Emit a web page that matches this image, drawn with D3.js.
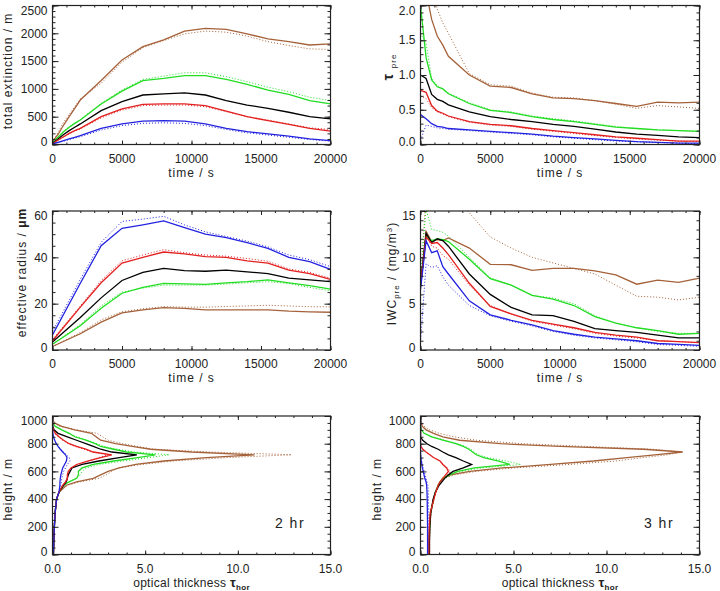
<!DOCTYPE html>
<html>
<head>
<meta charset="utf-8">
<script src="https://cdn.jsdelivr.net/npm/d3@7"></script>
<style>
body { margin: 0; background: #fff; }
svg { font-family: "Liberation Sans", Arial, sans-serif; }
</style>
</head>
<body>
<div id="chart"></div>
<script>
// time axis (s) used by extinction, tau and IWC
var times = [0, 400, 800, 1200, 1600, 2000, 3500, 5000, 6500, 8000, 9500, 11000, 12500, 14000, 15500, 17000, 18500, 20000];
// coarser output times for effective radius
var timesR = [0, 2000, 3500, 5000, 6500, 8000, 9500, 11000, 12500, 14000, 15500, 17000, 18500, 20000];
// heights (m) for the optical thickness profiles
var heights = [0, 100, 200, 300, 400, 450, 500, 525, 550, 575, 600, 625, 650, 675, 700, 720, 740, 760, 780, 800, 825, 850, 875, 900, 925, 950, 975, 1000];

// total extinction / m
var extBrown    = [50, 180, 350, 500, 650, 800, 1150, 1520, 1760, 1880, 2040, 2090, 2070, 1990, 1900, 1850, 1790, 1810];
var extBrownDot = [50, 220, 400, 540, 680, 820, 1100, 1480, 1740, 1870, 1990, 2040, 2020, 1950, 1850, 1780, 1720, 1710];
var extGreen    = [30, 130, 230, 310, 380, 440, 730, 960, 1150, 1190, 1240, 1240, 1170, 1080, 980, 900, 790, 730];
var extGreenDot = [30, 140, 240, 320, 390, 450, 740, 980, 1170, 1230, 1290, 1290, 1220, 1130, 1030, 950, 850, 790];
var extBlack    = [20, 100, 180, 250, 310, 370, 610, 770, 890, 910, 930, 890, 790, 710, 650, 580, 500, 460];
var extRed      = [15, 80, 140, 200, 250, 290, 500, 640, 720, 730, 730, 700, 600, 500, 430, 360, 290, 240];
var extRedDot   = [15, 75, 135, 190, 240, 280, 480, 620, 700, 710, 710, 680, 590, 500, 440, 370, 300, 270];
var extBlue     = [10, 40, 70, 100, 130, 160, 290, 370, 420, 430, 420, 370, 290, 230, 190, 150, 100, 70];
var extBlueDot  = [10, 35, 60, 90, 115, 140, 260, 340, 380, 390, 380, 340, 270, 210, 170, 130, 90, 60];

// tau_pre
var tauBrown    = [3.2, 2.2, 1.8, 1.56, 1.43, 1.27, 1.0, 0.84, 0.82, 0.73, 0.67, 0.66, 0.63, 0.59, 0.55, 0.61, 0.60, 0.61];
var tauBrownDot = [4.0, 3.2, 2.3, 1.95, 1.75, 1.6, 1.02, 0.86, 0.84, 0.74, 0.68, 0.67, 0.63, 0.58, 0.52, 0.56, 0.54, 0.52];
var tauGreen    = [2.0, 1.25, 0.93, 0.83, 0.80, 0.73, 0.59, 0.49, 0.46, 0.40, 0.36, 0.33, 0.29, 0.25, 0.23, 0.21, 0.20, 0.19];
var tauGreenDot = [1.6, 1.45, 0.95, 0.85, 0.80, 0.74, 0.60, 0.50, 0.47, 0.41, 0.37, 0.34, 0.30, 0.26, 0.23, 0.21, 0.20, 0.19];
var tauBlack    = [1.0, 0.95, 0.72, 0.65, 0.62, 0.57, 0.47, 0.40, 0.36, 0.33, 0.29, 0.26, 0.22, 0.18, 0.15, 0.13, 0.11, 0.10];
var tauRed      = [0.78, 0.75, 0.56, 0.48, 0.45, 0.41, 0.33, 0.29, 0.27, 0.23, 0.20, 0.17, 0.14, 0.11, 0.09, 0.07, 0.05, 0.05];
var tauRedDot   = [0.70, 0.66, 0.53, 0.47, 0.44, 0.40, 0.32, 0.28, 0.26, 0.22, 0.19, 0.16, 0.13, 0.10, 0.08, 0.06, 0.05, 0.04];
var tauBlue     = [0.43, 0.37, 0.30, 0.26, 0.25, 0.23, 0.21, 0.19, 0.17, 0.15, 0.12, 0.10, 0.08, 0.06, 0.04, 0.03, 0.02, 0.02];
var tauBlueDot  = [0.06, 0.28, 0.26, 0.24, 0.23, 0.22, 0.20, 0.18, 0.16, 0.14, 0.11, 0.09, 0.07, 0.05, 0.04, 0.03, 0.02, 0.01];

// effective radius / um
var radBlue     = [6.5, 28.8, 45, 52.5, 54, 55.7, 52.8, 50, 48.5, 46.3, 43.9, 40, 38.1, 34.8];
var radBlueDot  = [8, 30.5, 46.5, 55.5, 56.5, 57.7, 54, 51, 49, 47, 44.5, 41, 39, 36];
var radRed      = [4, 18.5, 29, 37.5, 40, 42.3, 41.5, 40.3, 40, 38.5, 37.5, 34.5, 33, 30.5];
var radRedDot   = [4.5, 19, 30, 38.5, 41, 43.3, 42, 41, 40.5, 39.5, 38.3, 35, 33.5, 31];
var radBlack    = [3.5, 14, 22.5, 30, 33.5, 35.2, 34.3, 34, 34.5, 33.7, 33, 31, 30.3, 29.5];
var radGreen    = [2.5, 10.5, 18, 24.5, 27, 28.8, 28.5, 28.3, 29, 29.5, 30.3, 29, 27.8, 26.3];
var radGreenDot = [2.5, 11, 19, 25, 26.7, 28, 28, 28, 28.5, 29, 29.5, 28.7, 27, 25.5];
var radBrown    = [1.5, 7, 12, 16, 17.3, 18.3, 18, 17.3, 17.3, 17.3, 17.3, 16.8, 16.5, 16.3];
var radBrownDot = [1.5, 7.5, 13, 16.5, 17.8, 18.7, 18.5, 18.5, 18.8, 19, 19.3, 19, 18.7, 18.6];

// IWC_pre / (mg/m3)
var iwcBrown    = [7.0, 12.8, 11.7, 11.9, 11.8, 12.1, 11.0, 9.25, 9.2, 8.6, 8.8, 8.8, 8.55, 8.1, 7.1, 7.55, 7.3, 7.75];
var iwcBrownDot = [7.0, 17, 20, 19, 18, 17.5, 14.8, 12.2, 11.0, 10.0, 9.4, 8.8, 8.2, 7.0, 5.8, 5.7, 5.4, 5.7];
var iwcGreen    = [7.0, 12.3, 11.8, 12.0, 11.9, 11.7, 9.8, 7.7, 7.0, 5.9, 5.5, 4.8, 3.6, 2.9, 2.4, 2.1, 1.7, 1.8];
var iwcGreenDot = [8.0, 15.2, 13.0, 12.9, 12.7, 12.3, 10.0, 7.8, 7.0, 5.9, 5.6, 5.0, 3.7, 2.9, 2.4, 2.0, 1.8, 1.8];
var iwcBlack    = [7.0, 12.6, 11.6, 12.0, 11.8, 11.2, 8.2, 6.0, 4.6, 3.8, 3.7, 3.1, 2.3, 2.1, 1.9, 1.6, 1.3, 1.3];
var iwcRed      = [7.0, 12.2, 11.5, 11.6, 11.0, 10.3, 7.2, 4.7, 3.9, 3.2, 2.8, 2.4, 1.9, 1.6, 1.4, 1.0, 0.9, 0.8];
var iwcRedDot   = [7.0, 12.5, 11.2, 11.0, 10.2, 9.8, 7.0, 4.8, 3.9, 3.1, 2.7, 2.3, 1.8, 1.5, 1.3, 1.0, 0.9, 0.8];
var iwcBlue     = [6.5, 11.8, 10.5, 10.7, 9.0, 8.2, 5.3, 3.8, 3.2, 2.7, 2.1, 1.7, 1.4, 1.2, 1.0, 0.7, 0.6, 0.5];
var iwcBlueDot  = [0.8, 9.3, 8.9, 9.1, 7.9, 7.0, 4.8, 3.7, 3.1, 2.6, 2.0, 1.6, 1.3, 1.1, 0.9, 0.6, 0.5, 0.4];

// optical thickness profiles, 2 hr
var p2Brown    = [0.05, 0.07, 0.1, 0.14, 0.22, 0.35, 0.75, 1.3, 2.2, 2.6, 3.0, 3.6, 4.5, 6.0, 8.3, 10.9, 7.5, 5.3, 4.3, 3.4, 2.6, 2.35, 2.1, 1.2, 0.5, 0.1, 0, 0];
var p2BrownDot = [0.05, 0.07, 0.1, 0.14, 0.22, 0.35, 0.8, 1.5, 2.5, 2.9, 3.2, 3.5, 4.8, 6.5, 9.5, 12.9, 8.5, 5.5, 4.6, 3.8, 3.0, 2.7, 2.4, 1.3, 0.4, 0.05, 0, 0];
var p2Green    = [0.05, 0.07, 0.1, 0.14, 0.22, 0.35, 0.6, 0.9, 1.3, 1.4, 1.4, 1.6, 2.2, 3.3, 4.6, 5.55, 4.0, 3.3, 2.6, 2.3, 1.8, 1.2, 0.9, 0.5, 0.15, 0, 0, 0];
var p2GreenDot = [0.05, 0.07, 0.1, 0.14, 0.22, 0.35, 0.6, 0.9, 1.3, 1.5, 1.6, 1.8, 2.5, 3.8, 5.2, 6.3, 4.4, 3.5, 2.8, 2.4, 1.9, 1.3, 0.9, 0.5, 0.15, 0, 0, 0];
var p2Black    = [0.05, 0.07, 0.1, 0.14, 0.22, 0.35, 0.6, 0.75, 0.8, 0.85, 0.95, 1.05, 1.6, 2.5, 3.6, 4.55, 3.2, 2.6, 2.2, 1.8, 1.3, 0.8, 0.3, 0.08, 0.02, 0, 0, 0];
var p2Red      = [0.05, 0.07, 0.1, 0.14, 0.22, 0.35, 0.55, 0.7, 0.8, 0.8, 0.85, 1.0, 1.3, 1.9, 2.6, 3.2, 2.2, 1.8, 1.3, 0.9, 0.6, 0.35, 0.15, 0.05, 0, 0, 0, 0];
var p2RedDot   = [0.05, 0.07, 0.1, 0.14, 0.22, 0.35, 0.55, 0.7, 0.8, 0.85, 0.9, 1.05, 1.35, 1.9, 2.5, 3.0, 2.1, 1.7, 1.2, 0.85, 0.55, 0.3, 0.12, 0.04, 0, 0, 0, 0];
var p2Blue     = [0.05, 0.07, 0.1, 0.14, 0.22, 0.35, 0.4, 0.4, 0.42, 0.45, 0.5, 0.55, 0.65, 0.75, 0.78, 0.7, 0.55, 0.42, 0.3, 0.2, 0.12, 0.05, 0.02, 0, 0, 0, 0, 0];
var p2BlueDot  = [0.05, 0.07, 0.1, 0.14, 0.22, 0.35, 0.45, 0.48, 0.5, 0.55, 0.6, 0.7, 0.8, 0.95, 0.9, 0.75, 0.6, 0.45, 0.32, 0.2, 0.12, 0.05, 0.02, 0, 0, 0, 0, 0];

// optical thickness profiles, 3 hr
var p3Brown    = [0.48, 0.48, 0.5, 0.55, 0.7, 0.8, 0.95, 1.05, 1.2, 1.6, 2.65, 4.4, 7.0, 9.3, 11.1, 12.6, 14.1, 12.0, 7.5, 4.3, 2.1, 1.2, 0.7, 0.3, 0.1, 0.02, 0, 0];
var p3BrownDot = [0.5, 0.5, 0.52, 0.57, 0.72, 0.85, 1.0, 1.1, 1.3, 1.8, 3.0, 5.0, 8.0, 10.5, 12.0, 13.3, 14.0, 12.5, 9.0, 5.5, 3.0, 1.8, 1.0, 0.5, 0.2, 0.05, 0, 0];
var p3Green    = [0.47, 0.47, 0.49, 0.54, 0.7, 0.8, 0.95, 1.05, 1.2, 1.55, 2.0, 2.9, 4.8, 4.2, 3.4, 3.0, 2.8, 2.6, 2.3, 1.9, 1.2, 0.6, 0.2, 0.05, 0, 0, 0, 0];
var p3GreenDot = [0.47, 0.47, 0.49, 0.54, 0.7, 0.8, 0.95, 1.05, 1.25, 1.65, 2.2, 3.3, 5.4, 4.6, 3.6, 3.1, 2.9, 2.7, 2.4, 2.0, 1.3, 0.65, 0.2, 0.05, 0, 0, 0, 0];
var p3Black    = [0.48, 0.48, 0.5, 0.55, 0.68, 0.8, 1.0, 1.15, 1.3, 1.5, 1.75, 2.3, 2.75, 2.3, 1.9, 1.5, 1.2, 0.95, 0.6, 0.35, 0.12, 0, 0, 0, 0, 0, 0, 0];
var p3Red      = [0.45, 0.45, 0.47, 0.52, 0.72, 0.82, 0.95, 1.05, 1.2, 1.35, 1.5, 1.4, 1.2, 1.05, 0.7, 0.5, 0.3, 0.12, 0.03, 0, 0, 0, 0, 0, 0, 0, 0, 0];
var p3RedDot   = [0.46, 0.46, 0.48, 0.53, 0.73, 0.84, 0.98, 1.1, 1.25, 1.45, 1.6, 1.45, 1.25, 1.05, 0.7, 0.5, 0.3, 0.12, 0.03, 0, 0, 0, 0, 0, 0, 0, 0, 0];
var p3Blue     = [0.38, 0.38, 0.38, 0.37, 0.36, 0.35, 0.33, 0.3, 0.23, 0.19, 0.15, 0.1, 0.07, 0.04, 0.02, 0.01, 0, 0, 0, 0, 0, 0, 0, 0, 0, 0, 0, 0];
var p3BlueDot  = [0.45, 0.45, 0.45, 0.44, 0.43, 0.42, 0.4, 0.35, 0.3, 0.25, 0.2, 0.14, 0.1, 0.06, 0.03, 0.01, 0, 0, 0, 0, 0, 0, 0, 0, 0, 0, 0, 0];

// tick values
var extTicks = [0, 500, 1000, 1500, 2000, 2500];
var tauTicks = [0, 0.5, 1.0, 1.5, 2.0];
var radTicks = [0, 20, 40, 60];
var iwcTicks = [0, 5, 10, 15];
var timeTicks = [0, 5000, 10000, 15000, 20000];
var hTicks = [0, 200, 400, 600, 800, 1000];
var odTicks = [0, 5, 10, 15];

var width = 720, height = 591;
var brown = "#a5623a", green = "#22dd22", red = "#e32020", blue = "#2222e0", black = "#000";

var svg = d3.select("#chart").append("svg")
    .attr("width", width)
    .attr("height", height);

var cols = { left: [52.5, 330.5], right: [420.5, 699.5] };
var rows = [[5.5, 144.5], [211, 350], [416, 554.5]];

var clipId = 0;

function drawPanel(p) {
    var x = d3.scaleLinear().domain(p.xDomain).range(p.col);
    var y = d3.scaleLinear().domain(p.yDomain).range([p.row[1], p.row[0]]);
    var g = svg.append("g");
    var left = p.col[0], right = p.col[1], top = p.row[0], bottom = p.row[1];

    // clip lines to the frame
    clipId++;
    svg.append("clipPath").attr("id", "clip" + clipId)
        .append("rect")
        .attr("x", left).attr("y", top)
        .attr("width", right - left).attr("height", bottom - top);

    var lines = g.append("g").attr("clip-path", "url(#clip" + clipId + ")");
    p.series.forEach(function(s) {
        var pts = s.values.map(function(v, i) {
            return p.profile ? [v, p.xs[i]] : [p.xs[i], v];
        });
        var line = d3.line()
            .x(function(d) { return x(d[0]); })
            .y(function(d) { return y(d[1]); });
        lines.append("path")
            .attr("d", line(pts))
            .attr("fill", "none")
            .attr("stroke", s.color)
            .attr("stroke-width", s.dot ? 1 : 1.3)
            .attr("stroke-dasharray", s.dot ? "1,2" : null);
    });

    // ticks on all four sides, pointing in
    var xMinor = d3.range(p.xDomain[0], p.xDomain[1] + p.xMinor / 2, p.xMinor);
    var yMinor = d3.range(p.yDomain[0], p.yDomain[1] + p.yMinor / 2, p.yMinor);
    function tickAxes(axisFn, scale, pos, vals, size) {
        var a = g.append("g")
            .attr("transform", pos)
            .call(axisFn(scale).tickValues(vals).tickSize(size).tickFormat(""));
        a.select(".domain").remove();
        a.selectAll("line").attr("stroke", "#222");
    }
    tickAxes(d3.axisBottom, x, "translate(0," + bottom + ")", p.xTicks, -4);
    tickAxes(d3.axisBottom, x, "translate(0," + bottom + ")", xMinor, -2);
    tickAxes(d3.axisTop, x, "translate(0," + top + ")", p.xTicks, -4);
    tickAxes(d3.axisTop, x, "translate(0," + top + ")", xMinor, -2);
    tickAxes(d3.axisLeft, y, "translate(" + left + ",0)", p.yTicks, -6);
    tickAxes(d3.axisLeft, y, "translate(" + left + ",0)", yMinor, -3);
    tickAxes(d3.axisRight, y, "translate(" + right + ",0)", p.yTicks, -6);
    tickAxes(d3.axisRight, y, "translate(" + right + ",0)", yMinor, -3);

    g.append("rect")
        .attr("x", left).attr("y", top)
        .attr("width", right - left).attr("height", bottom - top)
        .attr("fill", "none")
        .attr("stroke", "#222")
        .attr("stroke-width", 1.2);

    // tick labels
    g.selectAll(".xl").data(p.xTicks).enter().append("text")
        .attr("x", function(d) { return x(d); })
        .attr("y", bottom + 18)
        .attr("text-anchor", "middle")
        .attr("font-size", 12)
        .attr("fill", "#222")
        .text(p.xFormat);

    g.selectAll(".yl").data(p.yTicks).enter().append("text")
        .attr("x", left - 5)
        .attr("y", function(d) { return Math.min(Math.max(y(d), top + 5), bottom - 2.5); })
        .attr("dy", "0.35em")
        .attr("text-anchor", "end")
        .attr("font-size", 12)
        .attr("fill", "#222")
        .text(p.yFormat);

    // axis titles
    var xt = g.append("text")
        .attr("x", (left + right) / 2)
        .attr("y", bottom + 32)
        .attr("text-anchor", "middle")
        .attr("font-size", 12)
        .attr("letter-spacing", p.xSpacing)
        .attr("fill", "#222");
    p.xTitle(xt);

    var yt = g.append("text")
        .attr("transform", "translate(" + p.yTitleX + "," + ((top + bottom) / 2 + (p.yShift || 0)) + ") rotate(-90)")
        .attr("text-anchor", "middle")
        .attr("dy", "0.35em")
        .attr("font-size", 12)
        .attr("letter-spacing", 1)
        .attr("fill", "#222");
    p.yTitle(yt);

    if (p.note) {
        g.append("text")
            .attr("x", p.noteX)
            .attr("y", bottom - 27)
            .attr("text-anchor", "middle")
            .attr("font-size", 14)
            .attr("letter-spacing", 1.5)
            .attr("fill", "#222")
            .text(p.note);
    }
}

function timeTitle(t) { t.text("time / s"); }
function odTitle(t) {
    t.append("tspan").text("optical thickness ");
    t.append("tspan").attr("font-weight", "bold").attr("font-size", 13).text("\u03c4");
    t.append("tspan").attr("font-weight", "bold").attr("font-size", 8).attr("dy", 3).text("hor");
}
var fmtInt = d3.format("d"), fmt1 = d3.format(".1f");

drawPanel({
    col: cols.left, row: rows[0], xs: times,
    xDomain: [0, 20000], yDomain: [0, 2500], xTicks: timeTicks, yTicks: extTicks,
    xMinor: 1000, yMinor: 100, xFormat: fmtInt, yFormat: fmtInt,
    xTitle: timeTitle, xSpacing: 1, yTitleX: 8, yShift: -4,
    yTitle: function(t) { t.text("total extinction / m"); },
    series: [
        { values: extBrownDot, color: brown, dot: true }, { values: extGreenDot, color: green, dot: true },
        { values: extRedDot, color: red, dot: true }, { values: extBlueDot, color: blue, dot: true },
        { values: extBrown, color: brown }, { values: extGreen, color: green },
        { values: extBlack, color: black }, { values: extRed, color: red }, { values: extBlue, color: blue }
    ]
});

drawPanel({
    col: cols.right, row: rows[0], xs: times,
    xDomain: [0, 20000], yDomain: [0, 2], xTicks: timeTicks, yTicks: tauTicks,
    xMinor: 1000, yMinor: 0.1, xFormat: fmtInt, yFormat: fmt1,
    xTitle: timeTitle, xSpacing: 1, yTitleX: 389, yShift: -8,
    yTitle: function(t) {
        t.append("tspan").attr("font-weight", "bold").attr("font-size", 14).text("\u03c4 ");
        t.append("tspan").attr("font-size", 8).attr("dy", 3).text("pre");
    },
    series: [
        { values: tauBrownDot, color: brown, dot: true }, { values: tauGreenDot, color: green, dot: true },
        { values: tauRedDot, color: red, dot: true }, { values: tauBlueDot, color: blue, dot: true },
        { values: tauBrown, color: brown }, { values: tauGreen, color: green },
        { values: tauBlack, color: black }, { values: tauRed, color: red }, { values: tauBlue, color: blue }
    ]
});

drawPanel({
    col: cols.left, row: rows[1], xs: timesR,
    xDomain: [0, 20000], yDomain: [0, 60], xTicks: timeTicks, yTicks: radTicks,
    xMinor: 1000, yMinor: 5, xFormat: fmtInt, yFormat: fmtInt,
    xTitle: timeTitle, xSpacing: 1, yTitleX: 22, yShift: -8,
    yTitle: function(t) {
        t.append("tspan").text("effective radius / ");
        t.append("tspan").attr("font-weight", "bold").text("\u03bcm");
    },
    series: [
        { values: radBrownDot, color: brown, dot: true }, { values: radGreenDot, color: green, dot: true },
        { values: radRedDot, color: red, dot: true }, { values: radBlueDot, color: blue, dot: true },
        { values: radBrown, color: brown }, { values: radGreen, color: green },
        { values: radBlack, color: black }, { values: radRed, color: red }, { values: radBlue, color: blue }
    ]
});

drawPanel({
    col: cols.right, row: rows[1], xs: times,
    xDomain: [0, 20000], yDomain: [0, 15], xTicks: timeTicks, yTicks: iwcTicks,
    xMinor: 1000, yMinor: 1, xFormat: fmtInt, yFormat: fmtInt,
    xTitle: timeTitle, xSpacing: 1, yTitleX: 392, yShift: -7,
    yTitle: function(t) {
        t.append("tspan").text("IWC");
        t.append("tspan").attr("font-size", 8).attr("dy", 3).text("pre");
        t.append("tspan").attr("dy", -3).text("  /  (mg/m");
        t.append("tspan").attr("font-size", 8).attr("dy", -4).text("3");
        t.append("tspan").attr("dy", 4).text(")");
    },
    series: [
        { values: iwcBrownDot, color: brown, dot: true }, { values: iwcGreenDot, color: green, dot: true },
        { values: iwcRedDot, color: red, dot: true }, { values: iwcBlueDot, color: blue, dot: true },
        { values: iwcBrown, color: brown }, { values: iwcGreen, color: green },
        { values: iwcBlack, color: black }, { values: iwcRed, color: red }, { values: iwcBlue, color: blue }
    ]
});

drawPanel({
    col: cols.left, row: rows[2], xs: heights, profile: true,
    xDomain: [0, 15], yDomain: [0, 1000], xTicks: odTicks, yTicks: hTicks,
    xMinor: 1, yMinor: 50, xFormat: fmt1, yFormat: fmtInt,
    xTitle: odTitle, xSpacing: 0.3, yTitleX: 8, yShift: 4,
    yTitle: function(t) { t.text("height / m"); },
    note: "2 hr", noteX: 290,
    series: [
        { values: p2BrownDot, color: brown, dot: true }, { values: p2GreenDot, color: green, dot: true },
        { values: p2RedDot, color: red, dot: true }, { values: p2BlueDot, color: blue, dot: true },
        { values: p2Brown, color: brown }, { values: p2Green, color: green },
        { values: p2Black, color: black }, { values: p2Red, color: red }, { values: p2Blue, color: blue }
    ]
});

drawPanel({
    col: cols.right, row: rows[2], xs: heights, profile: true,
    xDomain: [0, 15], yDomain: [0, 1000], xTicks: odTicks, yTicks: hTicks,
    xMinor: 1, yMinor: 50, xFormat: fmt1, yFormat: fmtInt,
    xTitle: odTitle, xSpacing: 0.3, yTitleX: 377, yShift: 4,
    yTitle: function(t) { t.text("height / m"); },
    note: "3 hr", noteX: 659,
    series: [
        { values: p3BrownDot, color: brown, dot: true }, { values: p3GreenDot, color: green, dot: true },
        { values: p3RedDot, color: red, dot: true }, { values: p3BlueDot, color: blue, dot: true },
        { values: p3Brown, color: brown }, { values: p3Green, color: green },
        { values: p3Black, color: black }, { values: p3Red, color: red }, { values: p3Blue, color: blue }
    ]
});
</script>
</body>
</html>
